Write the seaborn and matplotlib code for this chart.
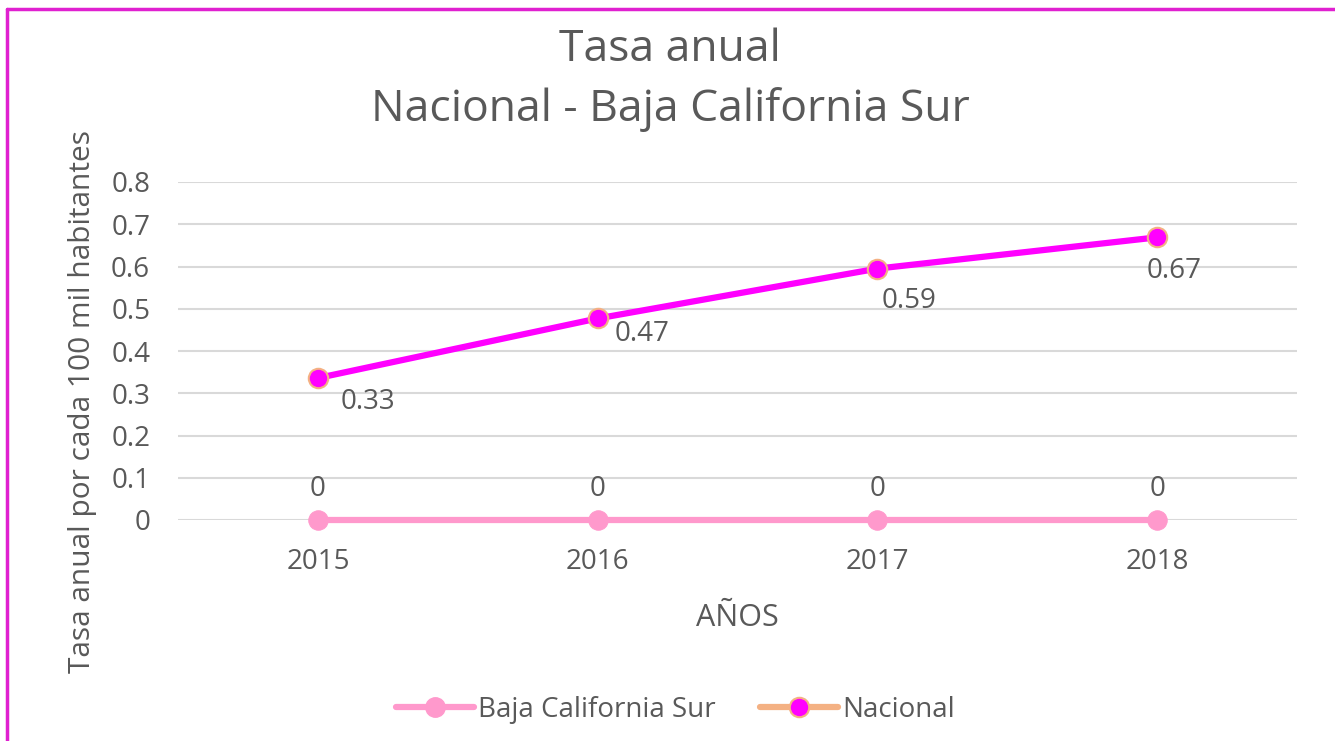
import pandas as pd
import matplotlib
matplotlib.use("Agg")
import matplotlib.pyplot as plt
from matplotlib.lines import Line2D
import seaborn as sns

years = ["2015", "2016", "2017", "2018"]
nacional = [0.336, 0.477, 0.595, 0.669]
nacional_labels = ["0.33", "0.47", "0.59", "0.67"]
bcs = [0, 0, 0, 0]
bcs_labels = ["0", "0", "0", "0"]
yticks = [0, 0.1, 0.2, 0.3, 0.4, 0.5, 0.6, 0.7, 0.8]
ytick_labels = ["0", "0.1", "0.2", "0.3", "0.4", "0.5", "0.6", "0.7", "0.8"]

# where excel put the nacional data labels (offset points from the marker)
nac_label_offsets = [(36, -17), (32, -11), (23, -23), (12, -24)]

df_nac = pd.DataFrame({"year": years, "value": nacional})
df_bcs = pd.DataFrame({"year": years, "value": bcs})

sns.set_style("white")
plt.rcParams["font.family"] = ["Open Sans", "DejaVu Sans"]
txt = "#595959"
c_nac = "#FF00FF"
c_nac_edge = "#F4B183"
c_bcs = "#FF99CC"

fig = plt.figure(figsize=(13.35, 7.41), dpi=100)
ax = fig.add_axes([178 / 1335, 1 - 520 / 741, 1119 / 1335, 338 / 741])

sns.lineplot(data=df_bcs, x="year", y="value", ax=ax, color=c_bcs, lw=4.5,
             marker="o", markersize=14, mec=c_bcs, mfc=c_bcs, sort=False, clip_on=False)
sns.lineplot(data=df_nac, x="year", y="value", ax=ax, color=c_nac, lw=4.5,
             marker="o", markersize=14, mec=c_nac_edge, mew=1.5, mfc=c_nac,
             sort=False, clip_on=False)

for i, (v, lab) in enumerate(zip(nacional, nacional_labels)):
    ax.annotate(lab, (i, v), xytext=nac_label_offsets[i], textcoords="offset points",
                ha="center", va="center", fontsize=20, color=txt)
for i, (v, lab) in enumerate(zip(bcs, bcs_labels)):
    ax.annotate(lab, (i, v), xytext=(0, 22), textcoords="offset points",
                ha="center", va="center", fontsize=20, color=txt)

ax.set_xlim(-0.5, 3.5)
ax.set_ylim(0, 0.8)
ax.set_yticks(yticks)
ax.set_yticklabels(ytick_labels)
ax.grid(axis="y", color="#D9D9D9", lw=1.5)
ax.set_axisbelow(True)
for s in ax.spines.values():
    s.set_visible(False)
ax.tick_params(axis="both", length=0, labelsize=20, labelcolor=txt)
ax.tick_params(axis="x", pad=20)
ax.tick_params(axis="y", pad=20)

ax.set_xlabel("AÑOS", fontsize=22, color=txt)
ax.xaxis.set_label_coords(0.5, -0.245)
ax.set_ylabel("Tasa anual por cada 100 mil habitantes", fontsize=21.5, color=txt)
ax.yaxis.set_label_coords(-0.072, 0.35)

fig.text(0.502, 1 - 50 / 741, "Tasa anual", ha="center", va="center", fontsize=32, color=txt)
fig.text(0.502, 1 - 110 / 741, "Nacional - Baja California Sur", ha="center", va="center",
         fontsize=32, color=txt)

handles = [
    Line2D([], [], color=c_bcs, lw=4.5, marker="o", markersize=14, mfc=c_bcs, mec=c_bcs),
    Line2D([], [], color=c_nac_edge, lw=4.5, marker="o", markersize=14, mfc=c_nac,
           mec=c_nac_edge, mew=1.5),
]
fig.legend(handles, ["Baja California Sur", "Nacional"], loc="center",
           bbox_to_anchor=(0.506, 1 - 710 / 741), ncol=2, frameon=False,
           fontsize=20, labelcolor=txt, handlelength=2.8, handletextpad=0.15,
           columnspacing=1.6)

# border lines (top and left) as in the original picture
fig.add_artist(Line2D([7 / 1335, 1], [1 - 9 / 741, 1 - 9 / 741], color="#E020D0", lw=2.5))
fig.add_artist(Line2D([7 / 1335, 7 / 1335], [0, 1 - 9 / 741], color="#E020D0", lw=2.5))

fig.savefig("out.png", dpi=100)
